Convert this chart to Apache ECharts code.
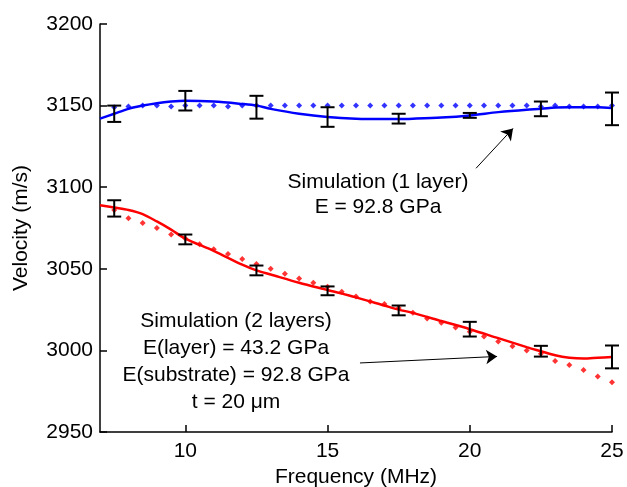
<!DOCTYPE html>
<html>
<head>
<meta charset="utf-8">
<script src="https://cdn.jsdelivr.net/npm/echarts@6/dist/echarts.min.js"></script>
<style>
  html, body { margin: 0; padding: 0; background: #fff; }
  #chart { width: 627px; height: 487px; }
</style>
</head>
<body>
<div id="chart"></div>
<script>
// measured points with error bars
const freq = [7.5, 10, 12.5, 15, 17.5, 20, 22.5, 25];
const oneLayerMean = [3145, 3153, 3149, 3143, 3142, 3144, 3148, 3148];
const oneLayerErr = [5, 6, 7, 6, 3, 1.5, 4.5, 10];
const twoLayerMean = [3087, 3068, 3049, 3036.5, 3024.5, 3013, 2999.5, 2996];
const twoLayerErr = [5, 3, 3, 2.7, 3, 4.5, 3.3, 7];

// simulation (dotted)
const simFreq = [7.5, 8, 8.5, 9, 9.5, 10, 10.5, 11, 11.5, 12, 12.5, 13, 13.5, 14, 14.5, 15, 15.5, 16,
  16.5, 17, 17.5, 18, 18.5, 19, 19.5, 20, 20.5, 21, 21.5, 22, 22.5, 23, 23.5, 24, 24.5, 25];
const sim1 = [3149, 3149.5, 3150, 3150, 3149.5, 3150, 3150, 3150, 3149.5, 3150, 3150, 3150, 3150, 3150,
  3150, 3150, 3150, 3150, 3150, 3150, 3150, 3150, 3150, 3150, 3150, 3150, 3150, 3150, 3150, 3150,
  3149.5, 3150, 3149.5, 3149.5, 3149.5, 3150];
const sim2 = [3086, 3081, 3078, 3075, 3071, 3068.5, 3065, 3062, 3059, 3056, 3053, 3050, 3047, 3044,
  3041.5, 3039, 3036, 3033, 3030, 3028.5, 3026, 3023, 3019.5, 3017, 3014, 3011.5, 3008.5, 3005.5,
  3002.5, 3000, 2998, 2993.5, 2991, 2988, 2984, 2980.5];

// fitted curves (solid)
const fitFreq = [7, 7.5, 8, 8.5, 9, 9.5, 10, 11, 12, 12.5, 13, 14, 15, 16, 17, 17.5, 18, 19, 20, 21, 22,
  22.5, 23, 23.5, 24, 24.5, 25];
const fit1 = [3142, 3145, 3148, 3150, 3151.5, 3152.5, 3153, 3152.5, 3151, 3150, 3148, 3145, 3143, 3142,
  3141.8, 3141.8, 3142, 3142.7, 3144, 3146, 3147.5, 3148, 3148.8, 3149, 3149, 3149, 3148.5];
const fit2 = [3089, 3087.5, 3086, 3083.5, 3079, 3074, 3068.5, 3061, 3052.5, 3049, 3046.5, 3041.5, 3037,
  3032.5, 3027.5, 3025, 3023, 3018, 3013, 3007.5, 3002, 2999.5, 2997, 2995.5, 2995, 2995.5, 2996];

const xTicks = [10, 15, 20, 25];
const FONT = 'Liberation Sans, Arial, sans-serif';

const pairs = (xs, ys) => xs.map((x, i) => [x, ys[i]]);
const errRows = (means, errs) => freq.map((x, i) => [x, means[i] - errs[i], means[i] + errs[i]]);

function renderErr(params, api) {
  const lo = api.coord([api.value(0), api.value(1)]);
  const hi = api.coord([api.value(0), api.value(2)]);
  const w = 7;
  const style = { stroke: '#000', lineWidth: 2 };
  return {
    type: 'group',
    children: [
      { type: 'line', shape: { x1: lo[0], y1: lo[1], x2: hi[0], y2: hi[1] }, style },
      { type: 'line', shape: { x1: lo[0] - w, y1: lo[1], x2: lo[0] + w, y2: lo[1] }, style },
      { type: 'line', shape: { x1: hi[0] - w, y1: hi[1], x2: hi[0] + w, y2: hi[1] }, style }
    ]
  };
}

const chart = echarts.init(document.getElementById('chart'));
chart.setOption({
  animation: false,
  backgroundColor: '#fff',
  grid: { left: 100, right: 15, top: 24, bottom: 55, outerBoundsMode: 'none' },
  xAxis: {
    type: 'value', min: 7, max: 25,
    name: 'Frequency (MHz)', nameLocation: 'middle', nameGap: 30,
    nameTextStyle: { fontFamily: FONT, fontSize: 21, color: '#000' },
    axisLine: { lineStyle: { color: '#000', width: 1.5 } },
    axisTick: { inside: true, length: 7, customValues: xTicks, lineStyle: { color: '#000', width: 1.5 } },
    axisLabel: { customValues: xTicks, margin: 9, fontFamily: FONT, fontSize: 21, color: '#000' },
    splitLine: { show: false }
  },
  yAxis: {
    type: 'value', min: 2950, max: 3200, interval: 50,
    name: 'Velocity (m/s)', nameLocation: 'middle', nameGap: 68,
    nameTextStyle: { fontFamily: FONT, fontSize: 21, color: '#000' },
    axisLine: { show: true, lineStyle: { color: '#000', width: 1.5 } },
    axisTick: { show: true, inside: true, length: 7, lineStyle: { color: '#000', width: 1.5 } },
    axisLabel: { margin: 7, formatter: v => String(v), fontFamily: FONT, fontSize: 21, color: '#000' },
    splitLine: { show: false }
  },
  series: [
    {
      type: 'line', data: pairs(fitFreq, fit1), smooth: 0.3, showSymbol: false,
      lineStyle: { color: '#0000ff', width: 2.5 }, z: 2
    },
    {
      type: 'line', data: pairs(fitFreq, fit2), smooth: 0.3, showSymbol: false,
      lineStyle: { color: '#ff0000', width: 2.5 }, z: 2,
      markLine: {
        silent: true, symbol: ['none', 'arrow'], symbolSize: 11, label: { show: false },
        lineStyle: { color: '#000', width: 1, type: 'solid' },
        itemStyle: { color: '#000' },
        data: [
          [{ coord: [20.22, 3111.6] }, { coord: [21.52, 3136] }],
          [{ coord: [16.14, 2992.3] }, { coord: [20.96, 2996.3] }]
        ]
      }
    },
    {
      type: 'scatter', data: pairs(simFreq, sim1), symbol: 'diamond', symbolSize: 6,
      itemStyle: { color: '#0000ff' }, z: 3
    },
    {
      type: 'scatter', data: pairs(simFreq, sim2), symbol: 'diamond', symbolSize: 6,
      itemStyle: { color: '#ff0000' }, z: 3
    },
    { type: 'custom', data: errRows(oneLayerMean, oneLayerErr), renderItem: renderErr, z: 4 },
    { type: 'custom', data: errRows(twoLayerMean, twoLayerErr), renderItem: renderErr, z: 4 }
  ],
  graphic: [
    {
      type: 'text', x: 378, y: 170,
      style: {
        text: 'Simulation (1 layer)\nE = 92.8 GPa', align: 'center', lineHeight: 25,
        font: '21px ' + FONT, fill: '#000'
      }
    },
    {
      type: 'text', x: 236, y: 308,
      style: {
        text: 'Simulation (2 layers)\nE(layer) = 43.2 GPa\nE(substrate) = 92.8 GPa\nt = 20 μm',
        align: 'center', lineHeight: 27, font: '21px ' + FONT, fill: '#000'
      }
    }
  ]
});
</script>
</body>
</html>
